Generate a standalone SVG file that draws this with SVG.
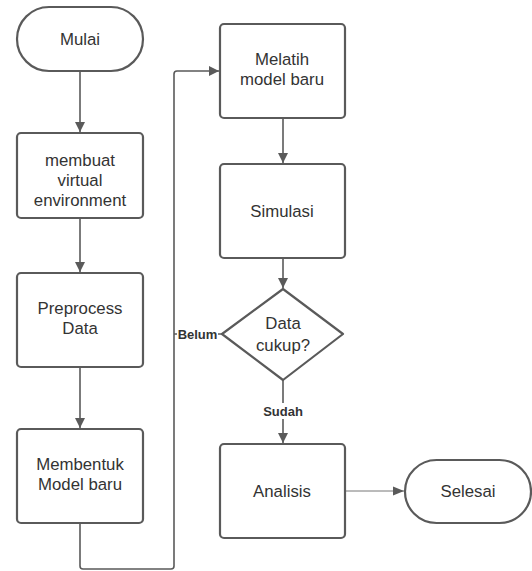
<svg xmlns="http://www.w3.org/2000/svg" width="532" height="571" viewBox="0 0 532 571">
<style>
.node{fill:#fff;stroke:#5a5a5a;stroke-width:2.2}
.t{font-family:"Liberation Sans",Arial,sans-serif;font-size:16.8px;fill:#333;text-anchor:middle}
.lbl{font-family:"Liberation Sans",Arial,sans-serif;font-size:13px;font-weight:bold;fill:#333;text-anchor:middle}
.c{fill:none;stroke:#5a5a5a;stroke-width:1.6}
.thin{fill:none;stroke:#777;stroke-width:1}
</style>
<defs>
<marker id="ah" viewBox="0 0 10 10" refX="10" refY="5" markerWidth="10" markerHeight="11" markerUnits="userSpaceOnUse" orient="auto">
<path d="M0,0 L10,5 L0,10 z" fill="#5a5a5a"/>
</marker>
<marker id="ah2" viewBox="0 0 10 10" refX="10" refY="5" markerWidth="11" markerHeight="11" markerUnits="userSpaceOnUse" orient="auto">
<path d="M0,1 L10,5 L0,9 z" fill="#5a5a5a"/>
</marker>
</defs>
<rect width="532" height="571" fill="#fff"/>
<g id="connectors">
<path class="c" d="M80,71 V132" marker-end="url(#ah)"/>
<path class="c" d="M80,218 V272" marker-end="url(#ah)"/>
<path class="c" d="M80,367 V428" marker-end="url(#ah)"/>
<path class="c" d="M80,523 V566 Q80,569 83,569 H171 Q174,569 174,566 V74 Q174,71 177,71 H219" marker-end="url(#ah)"/>
<path class="c" d="M283,118 V163" marker-end="url(#ah)"/>
<path class="c" d="M283,258 V288" marker-end="url(#ah)"/>
<path class="c" d="M222,334 H174"/>
<path class="c" d="M283,380 V443" marker-end="url(#ah)"/>
<path class="thin" d="M345,491 H404" marker-end="url(#ah2)"/>
<rect x="177" y="326" width="41" height="16" fill="#fff"/>
<text class="lbl" x="197.5" y="338.5">Belum</text>
<rect x="260" y="403" width="46" height="16" fill="#fff"/>
<text class="lbl" x="283" y="415.5">Sudah</text>
</g>
<g id="mulai">
<rect class="node" x="17" y="7" width="126" height="64" rx="32" ry="32"/>
<text class="t" x="80" y="44.5">Mulai</text>
</g>
<g id="membuat">
<rect class="node" x="17" y="133" width="126" height="85" rx="4"/>
<text class="t" x="80" y="166">membuat</text>
<text class="t" x="80" y="186">virtual</text>
<text class="t" x="80" y="206">environment</text>
</g>
<g id="preprocess">
<rect class="node" x="17" y="273" width="126" height="94" rx="4"/>
<text class="t" x="80" y="314">Preprocess</text>
<text class="t" x="80" y="334">Data</text>
</g>
<g id="membentuk">
<rect class="node" x="17" y="429" width="126" height="94" rx="4"/>
<text class="t" x="80" y="470">Membentuk</text>
<text class="t" x="80" y="490">Model baru</text>
</g>
<g id="melatih">
<rect class="node" x="220" y="24" width="125" height="94" rx="4"/>
<text class="t" x="282" y="65">Melatih</text>
<text class="t" x="282" y="85">model baru</text>
</g>
<g id="simulasi">
<rect class="node" x="220" y="164" width="125" height="94" rx="4"/>
<text class="t" x="282" y="217">Simulasi</text>
</g>
<g id="decision">
<path class="node" d="M283,289 L343,334 L283,380 L222,334 Z" stroke-linejoin="round"/>
<text class="t" x="283" y="329">Data</text>
<text class="t" x="283" y="351">cukup?</text>
</g>
<g id="analisis">
<rect class="node" x="220" y="444" width="125" height="94" rx="4"/>
<text class="t" x="282" y="497">Analisis</text>
</g>
<g id="selesai">
<rect class="node" x="405" y="460" width="126" height="63" rx="31.5" ry="31.5"/>
<text class="t" x="468" y="497">Selesai</text>
</g>
</svg>
